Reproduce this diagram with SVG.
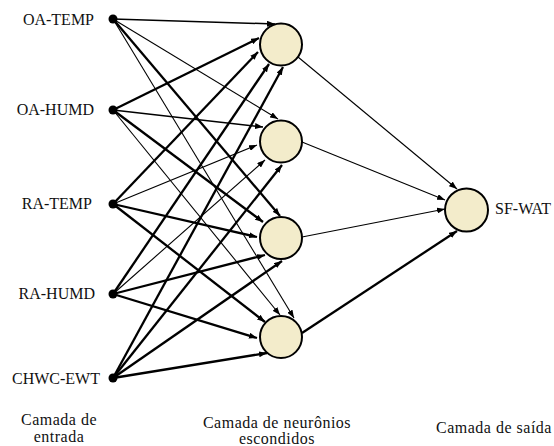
<svg xmlns="http://www.w3.org/2000/svg" width="554" height="446" viewBox="0 0 554 446">
<style>
.cap{letter-spacing:0.5px;text-anchor:middle}
.neuron{fill:#F3ECCB;stroke:#000;stroke-width:2}
.dot{fill:#000}
.c{stroke:#000;fill:none;marker-end:url(#ah)}
.t{stroke-width:1.1}
.m{stroke-width:1.5}
.k{stroke-width:2.3}
</style>
<defs>
<marker id="ah" markerUnits="userSpaceOnUse" viewBox="0 0 8 6" refX="8" refY="3" markerWidth="8" markerHeight="6" orient="auto">
<path d="M0,0 L8,3 L0,6 z" fill="#000"/>
</marker>
</defs>
<rect width="554" height="446" fill="#fff"/>
<g id="connectors">
<line class="c m" x1="113" y1="19" x2="275" y2="24"/>
<line class="c k" x1="113" y1="110" x2="259" y2="38"/>
<line class="c k" x1="113" y1="204" x2="258" y2="52"/>
<line class="c k" x1="113" y1="294" x2="269" y2="64"/>
<line class="c k" x1="113" y1="378" x2="283" y2="67"/>
<line class="c t" x1="113" y1="19" x2="278" y2="119"/>
<line class="c m" x1="113" y1="110" x2="263" y2="127"/>
<line class="c t" x1="113" y1="204" x2="257" y2="145"/>
<line class="c t" x1="113" y1="294" x2="265" y2="160"/>
<line class="c k" x1="113" y1="378" x2="282" y2="165"/>
<line class="c k" x1="113" y1="19" x2="280" y2="216"/>
<line class="c k" x1="113" y1="110" x2="263" y2="222"/>
<line class="c k" x1="113" y1="204" x2="257" y2="237"/>
<line class="c k" x1="113" y1="294" x2="265" y2="255"/>
<line class="c k" x1="113" y1="378" x2="282" y2="261"/>
<line class="c t" x1="113" y1="19" x2="294" y2="318"/>
<line class="c t" x1="113" y1="110" x2="280" y2="315"/>
<line class="c k" x1="113" y1="204" x2="265" y2="322"/>
<line class="c k" x1="113" y1="294" x2="257" y2="338"/>
<line class="c k" x1="113" y1="378" x2="267" y2="353"/>
<line class="c t" x1="298" y1="57" x2="457" y2="189"/>
<line class="c t" x1="302" y1="142" x2="445" y2="200"/>
<line class="c t" x1="302" y1="237" x2="445" y2="209"/>
<line class="c k" x1="302" y1="333" x2="457" y2="231"/>
</g>
<g font-family="Liberation Serif, DejaVu Serif, serif" font-size="16" fill="#111">
<g id="in-oa-temp"><circle class="dot" cx="113" cy="19" r="4.5"/><text x="94" y="25" text-anchor="end">OA-TEMP</text></g>
<g id="in-oa-humd"><circle class="dot" cx="113" cy="110" r="4.5"/><text x="94" y="115" text-anchor="end">OA-HUMD</text></g>
<g id="in-ra-temp"><circle class="dot" cx="113" cy="204" r="4.5"/><text x="92" y="209" text-anchor="end">RA-TEMP</text></g>
<g id="in-ra-humd"><circle class="dot" cx="113" cy="294" r="4.5"/><text x="95" y="299" text-anchor="end">RA-HUMD</text></g>
<g id="in-chwc-ewt"><circle class="dot" cx="113" cy="378" r="4.5"/><text x="100" y="384" text-anchor="end">CHWC-EWT</text></g>
<g id="h1"><circle class="neuron" cx="281" cy="44.5" r="21"/></g>
<g id="h2"><circle class="neuron" cx="281" cy="141.5" r="21"/></g>
<g id="h3"><circle class="neuron" cx="281" cy="238" r="21"/></g>
<g id="h4"><circle class="neuron" cx="281" cy="337" r="21"/></g>
<g id="out-sf-wat"><circle class="neuron" cx="466.5" cy="210" r="21.5"/><text x="495" y="214">SF-WAT</text></g>
<g id="captions">
<text class="cap" x="59" y="425">Camada de</text>
<text class="cap" x="59" y="442">entrada</text>
<text class="cap" x="277" y="428">Camada de neurônios</text>
<text class="cap" x="277" y="444">escondidos</text>
<text class="cap" x="494" y="433">Camada de saída</text>
</g>
</g>
</svg>
